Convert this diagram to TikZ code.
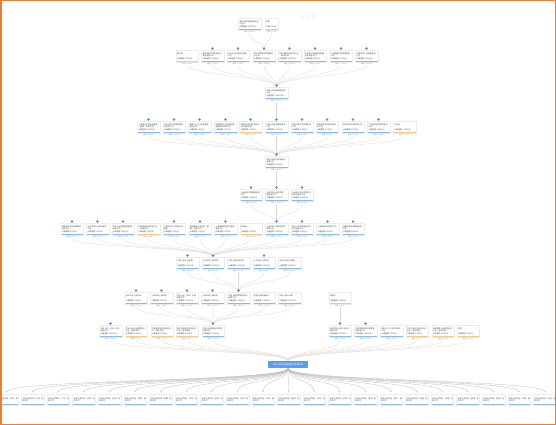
\documentclass[tikz,border=0pt]{standalone}
\usepackage{fontspec}
\setmainfont{Noto Sans CJK SC}
\usepackage{xcolor}
\usepackage{tikz}
\usetikzlibrary{arrows.meta,positioning,backgrounds}
\definecolor{barblue}{RGB}{140,186,232}
\definecolor{barorange}{RGB}{246,200,128}
\definecolor{linkblue}{RGB}{72,142,222}
\definecolor{dotblue}{RGB}{74,144,226}
\definecolor{mainblue}{RGB}{92,158,232}
\definecolor{frameorange}{RGB}{236,126,48}

\begin{document}
\begin{tikzpicture}[
    x=1pt, y=-1pt,
    firm/.style={rectangle, draw=gray!15, line width=0.3pt, fill=white, anchor=north,
                 minimum width=22.5pt, minimum height=12pt, text width=20pt,
                 inner sep=1pt, align=left, text=gray!60!black,
                 font=\fontsize{1.9}{2.5}\selectfont},
    co/.style={firm, path picture={\fill[barblue] (path picture bounding box.south west)
                 rectangle ([yshift=1.2pt]path picture bounding box.south east);}},
    pp/.style={firm, path picture={\fill[barorange] (path picture bounding box.south west)
                 rectangle ([yshift=1.2pt]path picture bounding box.south east);}},
    narrow/.style={minimum width=13pt, text width=11pt},
    share/.style={anchor=north, inner sep=0.5pt, text=linkblue, font=\fontsize{1.6}{2}\selectfont},
    expand/.style={circle, fill=dotblue, inner sep=0pt, minimum size=2.6pt, anchor=south},
    mainco/.style={rectangle, fill=mainblue, text=white, anchor=north, minimum width=40pt,
                 minimum height=7pt, inner sep=0.8pt, font=\fontsize{2.2}{2.6}\selectfont},
    link/.style={draw=gray!30, line width=0.3pt}
  ]
    \useasboundingbox (0,0) rectangle (556,425);
    \clip (0,0) rectangle (556,425);

    % watermark
    \node[text=dotblue!14, font=\fontsize{6}{6}\selectfont] (mark) at (308,16) {企查查};

    % top shareholders
    \node[co] (a1) at (249.5,18) {深圳市前海鑫瑞投资合\\伙企业\\认缴金额 4000万元};
    \node[pp, narrow] (a2) at (271.5,18) {张伟\\[2.5pt]认缴 1000万};
    \node[share] (as1) at (a1.south) {持股 ↓ 80.00\%};
    \node[share] (as2) at (a2.south) {持股 ↓ 20\%};

    % row b
    \foreach \n/\x/\s/\t/\v in {
        1/187/pp/{陈志强\\[2.5pt]认缴金额 300万元}/3.00\%,
        2/212.5/co/{重庆渝富资本股权投资\\基金有限公司\\认缴金额 1200万元}/12.00\%,
        3/238/co/{苏州元禾控股股份有限\\公司\\认缴金额 900万元}/9.00\%,
        4/264/co/{深圳市鑫瑞投资管理合\\伙企业\\认缴金额 3500万元}/35.00\%,
        5/289.5/co/{杭州创新投资合伙企业\\（有限合伙）\\认缴金额 1000万元}/10.00\%,
        6/315/co/{宁波梅山保税港区鼎盛\\投资有限公司\\认缴金额 800万元}/8.00\%,
        7/341/co/{上海国盛资本管理有限\\公司\\认缴金额 1300万元}/13.00\%,
        8/366.5/co/{天津滨海产业基金有限\\公司\\认缴金额 1000万元}/10.00\%}
      {\node[\s] (b\n) at (\x,50) {\t};
       \node[share] (bs\n) at (b\n.south) {持股 ↓ \v};}

    % row c
    \node[co] (c) at (276.5,87) {中能上网控股集团有限\\公司\\认缴金额 15200万元};
    \node[share] (cs) at (c.south) {持股 ↓ 15.20\%};

    % row d
    \foreach \n/\x/\s/\t/\v in {
        1/148.5/co/{上海浦东科创投资管理\\（集团）有限公司\\认缴金额 2050万元}/20.50\%,
        2/174/co/{北京中关村发展集团股\\份有限公司\\认缴金额 1200万元}/12.00\%,
        3/199.5/co/{国家中小企业发展基金\\有限公司\\认缴金额 980万元}/9.80\%,
        4/225.5/co/{中国国有企业结构调整\\基金股份有限公司\\认缴金额 800万元}/8.00\%,
        5/250.5/pp/{中国科学院控股有限公\\司工会委员会\\认缴金额 650万元}/6.50\%,
        6/276.5/co/{中能上网控股集团有限\\公司\\认缴金额 1520万元}/15.20\%,
        7/302/co/{中国人寿资产管理有限\\公司\\认缴金额 500万元}/5.00\%,
        8/327/co/{招商局资本控股有限责\\任公司\\认缴金额 470万元}/4.70\%,
        9/353/co/{中金资本运营有限公司\\[2.5pt]认缴金额 430万元}/4.30\%,
        10/378.5/co/{广东粤财投资控股有限\\公司\\认缴金额 300万元}/3.00\%,
        11/404.5/pp/{刘志远\\[2.5pt]认缴金额 1100万元}/11.00\%}
      {\node[\s] (d\n) at (\x,121) {\t};
       \node[share] (ds\n) at (d\n.south) {持股 ↓ \v};}

    % row e
    \node[co] (e) at (276.5,156) {中能上网科技控股股份\\有限公司\\认缴金额 6800万元};
    \node[share] (es) at (e.south) {持股 ↓ 68.00\%};

    % row f
    \foreach \n/\x/\t/\v in {
        1/251/{上海浦东发展集团有限\\公司\\认缴金额 2000万元}/20.00\%,
        2/276.5/{上海中能上网投资管\\理有限公司\\认缴金额 5000万元}/50.00\%,
        3/302/{上海张江高科技园区开\\发股份有限公司\\认缴金额 3000万元}/30.00\%}
      {\node[co] (f\n) at (\x,189) {\t};
       \node[share] (fs\n) at (f\n.south) {持股 ↓ \v};}

    % row g
    \foreach \n/\x/\s/\t/\v in {
        1/72/co/{湖南湘江新区发展集团\\有限公司\\认缴金额 620万元}/6.20\%,
        2/97.5/co/{长沙先导产业投资有限\\公司\\认缴金额 580万元}/5.80\%,
        3/123/co/{武汉光谷金融控股集团\\有限公司\\认缴金额 550万元}/5.50\%,
        4/148.5/pp/{南京紫金投资合伙企业\\（有限合伙）\\认缴金额 400万元}/4.00\%,
        5/174/co/{上海科创中心股权投资\\基金\\认缴金额 900万元}/9.00\%,
        6/200/co/{合肥建设投资控股（集\\团）有限公司\\认缴金额 700万元}/7.00\%,
        7/225.5/co/{上海国际集团资产管理\\有限公司\\认缴金额 650万元}/6.50\%,
        8/251/pp/{赵海峰\\[2.5pt]认缴金额 300万元}/3.00\%,
        9/276.5/co/{上海中能上网数字科技\\有限公司\\认缴金额 3200万元}/32.00\%,
        10/302/co/{苏州工业园区国有资本\\投资运营公司\\认缴金额 600万元}/6.00\%,
        11/327.5/co/{上海联和投资有限公司\\[2.5pt]认缴金额 800万元}/8.00\%,
        12/353/co/{成都高新投资集团有限\\公司\\认缴金额 600万元}/6.00\%}
      {\node[\s] (g\n) at (\x,223) {\t};
       \node[share] (gs\n) at (g\n.south) {持股 ↓ \v};}

    % row h
    \foreach \n/\x/\t/\v in {
        1/187.5/{中能上网企业管理}/10.00\%,
        2/213/{上海中能上网控股}/40.00\%,
        3/238.5/{中能上网信息科技}/15.00\%,
        4/264/{上海中能上网实业}/20.00\%,
        5/289.5/{中能上网资产管理}/15.00\%}
      {\node[co] (h\n) at (\x,257) {\t\\[2.5pt]认缴金额 1000万元};
       \node[share] (hs\n) at (h\n.south) {持股 ↓ \v};}

    % row i
    \foreach \n/\x/\s/\t/\v in {
        1/136/co/{杭州中能上网科技\\[2.5pt]认缴金额 500万元}/5.00\%,
        2/161.5/co/{上海中能上网网络\\[2.5pt]认缴金额 800万元}/8.00\%,
        3/187/co/{中能上网（深圳）投资\\有限公司\\认缴金额 1200万元}/12.00\%,
        4/212.5/co/{上海中能上网创投\\[2.5pt]认缴金额 1000万元}/10.00\%,
        5/238.5/co/{中能上网智慧城市科技\\有限公司\\认缴金额 4500万元}/45.00\%,
        6/264/co/{中能上网数据服务\\[2.5pt]认缴金额 1000万元}/10.00\%,
        7/289.5/co/{中能上网云计算\\[2.5pt]认缴金额 1000万元}/10.00\%,
        8/340/pp/{孙建华\\[2.5pt]认缴金额 2000万元}/100\%}
      {\node[\s] (i\n) at (\x,292) {\t};
       \node[share] (is\n) at (i\n.south) {持股 ↓ \v};}

    % row j
    \foreach \n/\x/\s/\t/\v in {
        1/110.5/co/{中能上网（北京）科技\\有限公司\\认缴金额 1800万元}/18.00\%,
        2/136/pp/{宁波上网企业管理合伙\\企业（有限合伙）\\认缴金额 600万元}/6.00\%,
        3/162/pp/{共青城中能投资合伙企\\业（有限合伙）\\认缴金额 500万元}/5.00\%,
        4/187/pp/{嘉兴中能股权投资合伙\\企业（有限合伙）\\认缴金额 400万元}/4.00\%,
        5/213/co/{中能上网智能科技发展\\有限公司\\认缴金额 2600万元}/26.00\%,
        6/340/co/{深圳中能上网产业投资\\有限公司\\认缴金额 1500万元}/15.00\%,
        7/365.5/co/{中国互联网投资基金管\\理有限公司\\认缴金额 1000万元}/10.00\%,
        8/391.5/co/{湖北长江产业投资有限\\公司\\认缴金额 800万元}/8.00\%,
        9/417/pp/{宁波上网创业投资合伙\\企业（有限合伙）\\认缴金额 300万元}/3.00\%,
        10/443/pp/{珠海横琴上网投资合伙\\企业（有限合伙）\\认缴金额 200万元}/2.00\%,
        11/468/pp/{周明\\[2.5pt]认缴金额 200万元}/2.00\%}
      {\node[\s] (j\n) at (\x,325) {\t};
       \node[share] (js\n) at (j\n.south) {持股 ↓ \v};}

    % main company
    \node[mainco] (main) at (288,361) {中能上网科技集团股份有限公司};

    % subsidiaries
    \foreach \c [count=\n] in {北京,上海,广州,深圳,杭州,南京,成都,武汉,西安,苏州,天津,
                               重庆,长沙,郑州,青岛,厦门,合肥,济南,福州,昆明,沈阳,大连}
      {\pgfmathsetmacro\x{7+25.6*(\n-1)}
       \node[co, minimum height=11pt] (k\n) at (\x,394) {中能上网科技（\c）有\\限公司};}

    % expand buttons
    \foreach \n in {2,...,8} \node[expand] (bd\n) at (b\n.north) {};
    \node[expand] (cd) at (c.north) {};
    \foreach \n in {1,...,10} \node[expand] (dd\n) at (d\n.north) {};
    \node[expand] (ed) at (e.north) {};
    \foreach \n in {1,2,3} \node[expand] (fd\n) at (f\n.north) {};
    \foreach \n in {1,2,3,5,6,7,9,10,11,12} \node[expand] (gd\n) at (g\n.north) {};
    \foreach \n in {1,2,4} \node[expand] (hd\n) at (h\n.north) {};
    \foreach \n in {1,...,5} \node[expand] (id\n) at (i\n.north) {};
    \foreach \n in {1,5,6,7} \node[expand] (jd\n) at (j\n.north) {};

    % connectors
    \begin{scope}[on background layer]
      \foreach \n in {1,2} \draw[link] (as\n.south) .. controls +(0,9) and +(0,-9) .. (b4.north);
      \foreach \n in {1,...,8} \draw[link] (bs\n.south) .. controls +(0,10) and +(0,-10) .. (c.north);
      \draw[link] (cs.south) -- (d6.north);
      \foreach \n in {1,...,11} \draw[link] (ds\n.south) .. controls +(0,10) and +(0,-10) .. (e.north);
      \draw[link] (es.south) -- (f2.north);
      \foreach \n in {1,2,3} \draw[link] (fs\n.south) .. controls +(0,10) and +(0,-10) .. (g9.north);
      \foreach \n in {1,...,12} \draw[link] (gs\n.south) .. controls +(0,10) and +(0,-10) .. (h2.north);
      \foreach \n in {1,...,5} \draw[link] (hs\n.south) .. controls +(0,10) and +(0,-10) .. (i5.north);
      \foreach \n in {1,...,7} \draw[link] (is\n.south) .. controls +(0,10) and +(0,-10) .. (j5.north);
      \draw[link] (is8.south) -- (j6.north);
      \foreach \n in {1,...,11} \draw[link] (js\n.south) .. controls +(0,11) and +(0,-11) .. (main.north);
      \foreach \n in {1,...,22} \draw[link, draw=gray!55, -{Stealth[length=1.3pt,width=1.1pt]}]
        (main.south) .. controls +(0,13) and +(0,-13) .. ([yshift=1.5pt]k\n.north);
    \end{scope}

    % frame
    \draw[frameorange, line width=1.5pt] (0.75,0.75) rectangle (555.25,424.25);
  \end{tikzpicture}
\end{document}
